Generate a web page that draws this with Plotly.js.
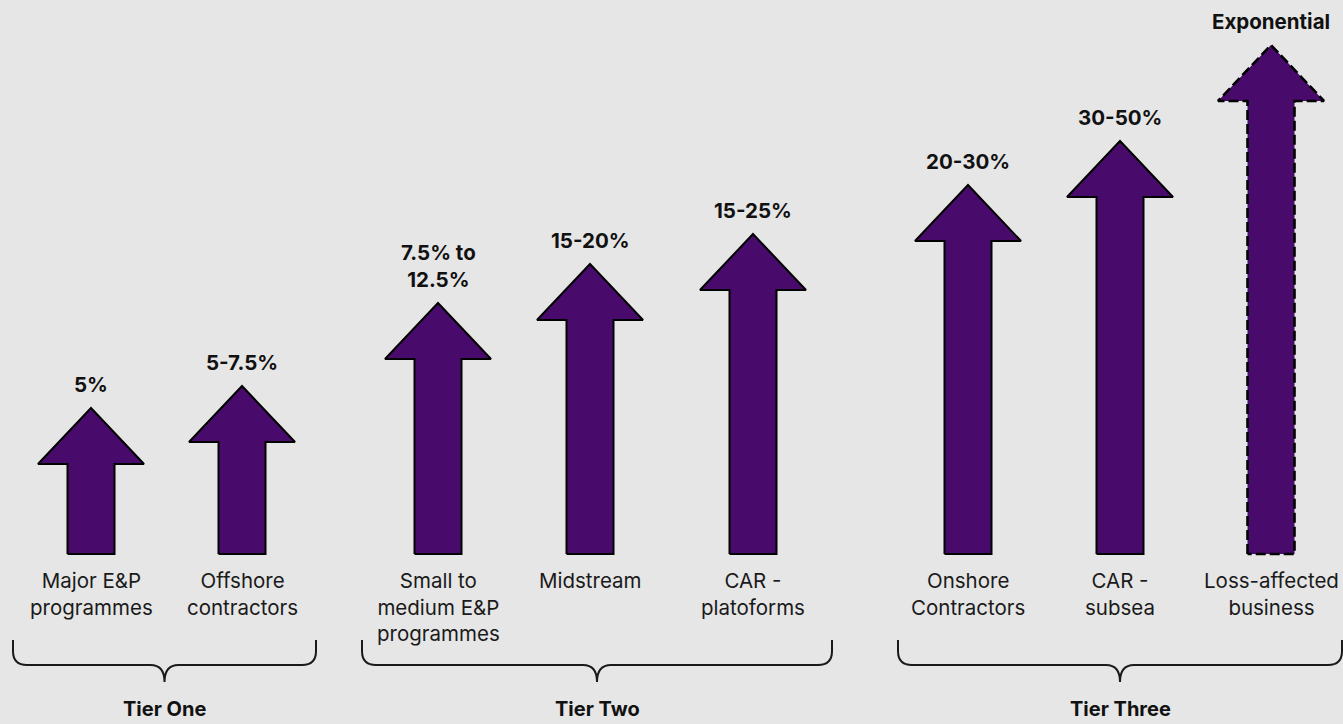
<!DOCTYPE html>
<html>
<head>
<meta charset="utf-8">
<script src="https://cdn.plot.ly/plotly-3.0.1.min.js"></script>
<style>
html,body{margin:0;padding:0;background:#e6e6e6;}
#chart{width:1343px;height:724px;}
</style>
</head>
<body>
<div id="chart"></div>
<script>
// ---- data ----
const categories = ["Major E&P<br>programmes","Offshore<br>contractors","Small to<br>medium E&P<br>programmes","Midstream","CAR -<br>platoforms","Onshore<br>Contractors","CAR -<br>subsea","Loss-affected<br>business"];
const valueLabels = ["5%","5-7.5%","7.5% to<br>12.5%","15-20%","15-25%","20-30%","30-50%","Exponential"];
const arrowHeights = [146,168,251,290,320,369,413,509];   // relative arrow lengths
const tiers = ["Tier One","Tier Two","Tier Three"];
const dashedFlag = [false,false,false,false,false,false,false,true];

// ---- layout config ----
const xCenters = [91,242,438,590,753,968,1120,1271];
const tierSpans = [[13,316],[362,832],[898,1342]];
const headHalf = 53, shaftHalf = 23.5, headH = 56;
const fillColor = "#490b6b";
const font = "Inter, 'Noto Sans', Roboto, sans-serif";

const traces = [];
const annotations = [];
arrowHeights.forEach((h,i)=>{
  const c = xCenters[i];
  const xs = [c-shaftHalf, c-shaftHalf, c-headHalf, c, c+headHalf, c+shaftHalf, c+shaftHalf, c-shaftHalf];
  const ys = [0, h-headH, h-headH, h, h-headH, h-headH, 0, 0];
  traces.push({
    type:"scatter", mode:"lines", x:xs, y:ys, fill:"toself", fillcolor:fillColor,
    line:{color:"#000", width: dashedFlag[i]?2.6:2, dash: dashedFlag[i]?"10px,4px":"solid"},
    hoverinfo:"skip", showlegend:false
  });
  annotations.push({x:c, y:h, xref:"x", yref:"y", text:"<b>"+valueLabels[i]+"</b>", showarrow:false,
    yanchor:"bottom", yshift:9, font:{family:font, size:20.5, color:"#111"}});
  annotations.push({x:c, y:-12, xref:"x", yref:"y", text:categories[i], showarrow:false,
    yanchor:"top", font:{family:font, size:20.5, color:"#1a1a1a"}});
});

const shapes = [];
const yTop = -86, yMid = -111, yTip = -128, r = 14;
tierSpans.forEach((s,t)=>{
  const a = s[0], b = s[1], m = (a+b)/2;
  const path = `M ${a} ${yTop} L ${a} ${yMid+r} Q ${a} ${yMid} ${a+r} ${yMid} L ${m-r} ${yMid} Q ${m} ${yMid} ${m} ${yTip} Q ${m} ${yMid} ${m+r} ${yMid} L ${b-r} ${yMid} Q ${b} ${yMid} ${b} ${yMid+r} L ${b} ${yTop}`;
  shapes.push({type:"path", path:path, xref:"x", yref:"y", line:{color:"#1a1a1a", width:2}});
  annotations.push({x:m, y:-168, xref:"x", yref:"y", text:"<b>"+tiers[t]+"</b>", showarrow:false,
    yanchor:"bottom", borderpad:0, font:{family:font, size:20, color:"#111"}});
});

const layout = {
  width:1343, height:724,
  margin:{l:0,r:0,t:0,b:0},
  paper_bgcolor:"#e6e6e6", plot_bgcolor:"#e6e6e6",
  xaxis:{range:[0,1343], visible:false, fixedrange:true},
  yaxis:{range:[-170,554], visible:false, fixedrange:true},
  shapes:shapes, annotations:annotations, showlegend:false
};
Plotly.newPlot("chart", traces, layout, {displayModeBar:false, staticPlot:true});
</script>
</body>
</html>
